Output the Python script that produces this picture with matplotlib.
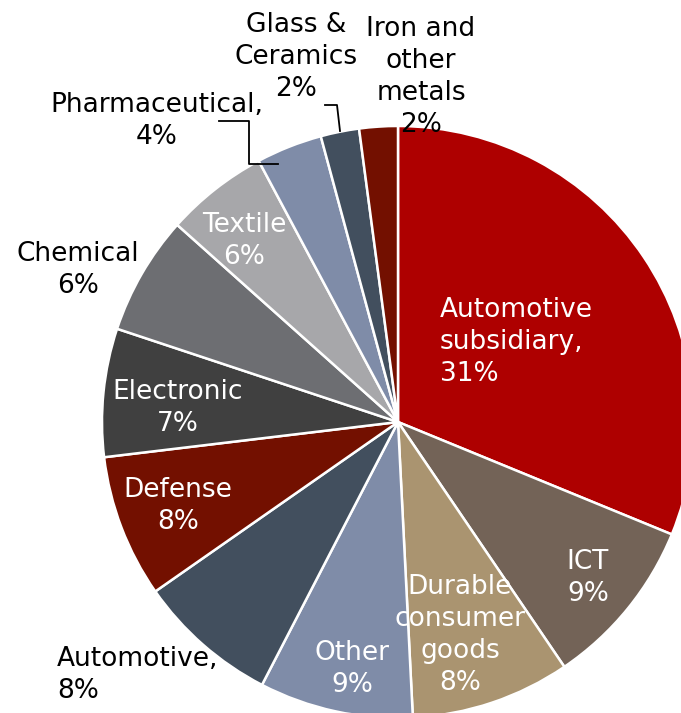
import matplotlib.pyplot as plt

# figure is laid out in pixel units (y measured from the top)
W, H = 681, 713

# slice data, clockwise from 12 o'clock
sectors = ['Automotive\nsubsidiary,', 'ICT', 'Durable\nconsumer\ngoods', 'Other',
           'Automotive,', 'Defense', 'Electronic', 'Chemical', 'Textile',
           'Pharmaceutical,', 'Glass &\nCeramics', 'Iron and\nother\nmetals']
shares = [31.2, 9.3, 8.7, 8.4, 7.7, 7.8, 7.0, 6.5, 5.6, 3.6, 2.1, 2.1]
pct_labels = ['31%', '9%', '8%', '9%', '8%', '8%', '7%', '6%', '6%', '4%', '2%', '2%']
colors = ['#AE0000', '#736357', '#AA9470', '#7F8CA8', '#424F5E', '#731000',
          '#404040', '#6D6E72', '#A7A7AA', '#7F8CA8', '#424F5E', '#731000']

# label placement: x, y (pixels from top), horizontal alignment, text colour
label_pos = [
    (440, 342, 'left', 'white'),
    (588, 578, 'center', 'white'),
    (460, 635, 'center', 'white'),
    (352, 669, 'center', 'white'),
    (57, 675, 'left', 'black'),
    (178, 506, 'center', 'white'),
    (178, 408, 'center', 'white'),
    (78, 270, 'center', 'black'),
    (244, 241, 'center', 'white'),
    (157, 121, 'center', 'black'),
    (296, 57, 'center', 'black'),
    (421, 77, 'center', 'black'),
]

fig = plt.figure(figsize=(W / 100, H / 100), dpi=100)
ax = fig.add_axes([0, 0, 1, 1])

ax.pie(shares, colors=colors, startangle=90, counterclock=False,
       center=(398, H - 422), radius=296,
       wedgeprops=dict(edgecolor='white', linewidth=1.8))

for name, pct, (x, y, ha, c) in zip(sectors, pct_labels, label_pos):
    ax.text(x, H - y, name + '\n' + pct, ha=ha, va='center', multialignment=ha,
            color=c, fontsize=19, linespacing=1.31, family='DejaVu Sans')

# leader lines for the two small slices
ax.plot([219, 249, 249, 278], [H - 121, H - 121, H - 164, H - 164], color='black', lw=1.3)
ax.plot([325, 337, 340], [H - 105, H - 105, H - 131], color='black', lw=1.3)

ax.set_xlim(0, W)
ax.set_ylim(0, H)
ax.set_aspect('auto')
ax.axis('off')

fig.savefig('out.png', dpi=100)
